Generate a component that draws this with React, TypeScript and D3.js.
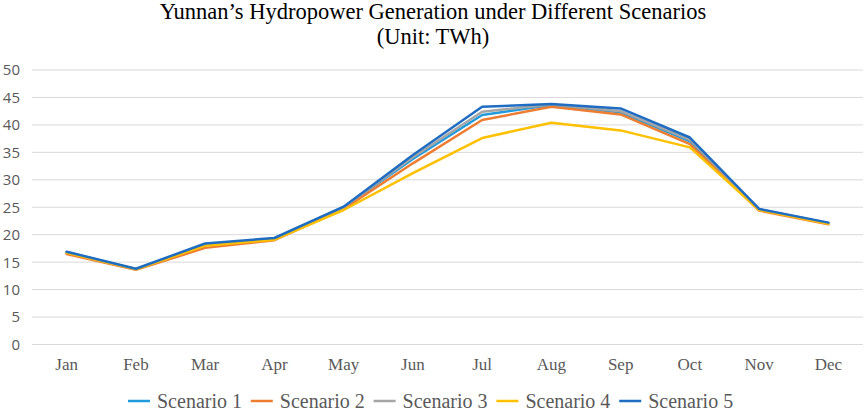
import React from 'react';
import * as d3 from 'd3';

const months = ['Jan', 'Feb', 'Mar', 'Apr', 'May', 'Jun', 'Jul', 'Aug', 'Sep', 'Oct', 'Nov', 'Dec'];
const yTicks = [0, 5, 10, 15, 20, 25, 30, 35, 40, 45, 50];

const scenario1 = [16.8, 13.7, 18.1, 19.3, 25.0, 33.8, 41.8, 43.6, 42.3, 37.0, 24.6, 22.1];
const scenario2 = [16.5, 13.6, 17.6, 19.0, 24.7, 33.0, 40.9, 43.3, 41.9, 36.5, 24.4, 21.9];
const scenario3 = [16.8, 13.7, 18.2, 19.3, 25.0, 34.1, 42.4, 43.7, 42.5, 37.3, 24.6, 22.1];
const scenario4 = [16.7, 13.7, 18.0, 19.1, 24.5, 31.2, 37.6, 40.4, 39.0, 35.9, 24.5, 22.0];
const scenario5 = [16.9, 13.8, 18.4, 19.4, 25.1, 34.5, 43.3, 43.8, 43.0, 37.7, 24.7, 22.2];

const series = [
  { name: 'Scenario 1', values: scenario1, color: '#1f9bdc' },
  { name: 'Scenario 2', values: scenario2, color: '#ed7d31' },
  { name: 'Scenario 3', values: scenario3, color: '#a5a5a5' },
  { name: 'Scenario 4', values: scenario4, color: '#ffc000' },
  { name: 'Scenario 5', values: scenario5, color: '#1f6dc2' },
];

const width = 865;
const height = 413;
const plot = { left: 32, right: 863, top: 70, bottom: 344.5 };
const serif = '"Liberation Serif", "Times New Roman", serif';
const sans = '"Open Sans", "Noto Sans", sans-serif';

export default function App() {
  const x = d3.scaleBand<string>().domain(months).range([plot.left, plot.right]);
  const y = d3.scaleLinear().domain([0, 50]).range([plot.bottom, plot.top]);
  const cx = (m: string) => (x(m) ?? 0) + x.bandwidth() / 2;

  const line = d3
    .line<number>()
    .x((_, i) => cx(months[i]))
    .y(d => y(d));

  return (
    <svg
      width={width}
      height={height}
      style={{ position: 'absolute', left: 0, top: 0, background: '#fff' }}
    >
      <text x={433} y={19} textAnchor="middle" fontFamily={serif} fontSize={22.5} fill="#000">
        Yunnan’s Hydropower Generation under Different Scenarios
      </text>
      <text x={433} y={44} textAnchor="middle" fontFamily={serif} fontSize={22.5} fill="#000">
        (Unit: TWh)
      </text>

      {yTicks.map(t => (
        <g key={t}>
          <line x1={plot.left} x2={plot.right} y1={y(t)} y2={y(t)} stroke="#d9d9d9" strokeWidth={1} />
          <text
            x={20}
            y={y(t)}
            dy="0.36em"
            textAnchor="end"
            fontFamily={sans}
            fontSize={15}
            fill="#595959"
          >
            {t}
          </text>
        </g>
      ))}

      {months.map(m => (
        <text key={m} x={cx(m)} y={370} textAnchor="middle" fontFamily={serif} fontSize={17} fill="#595959">
          {m}
        </text>
      ))}

      {series.map(s => (
        <path
          key={s.name}
          d={line(s.values) ?? ''}
          fill="none"
          stroke={s.color}
          strokeWidth={2.5}
          strokeLinejoin="round"
          strokeLinecap="round"
        />
      ))}

      {series.map((s, i) => {
        const lx = 128 + i * 122.8;
        return (
          <g key={s.name} transform={`translate(${lx},401)`}>
            <line x1={0} x2={22} y1={0} y2={0} stroke={s.color} strokeWidth={2.5} />
            <text x={29} y={7} fontFamily={serif} fontSize={20} fill="#595959">
              {s.name}
            </text>
          </g>
        );
      })}
    </svg>
  );
}
